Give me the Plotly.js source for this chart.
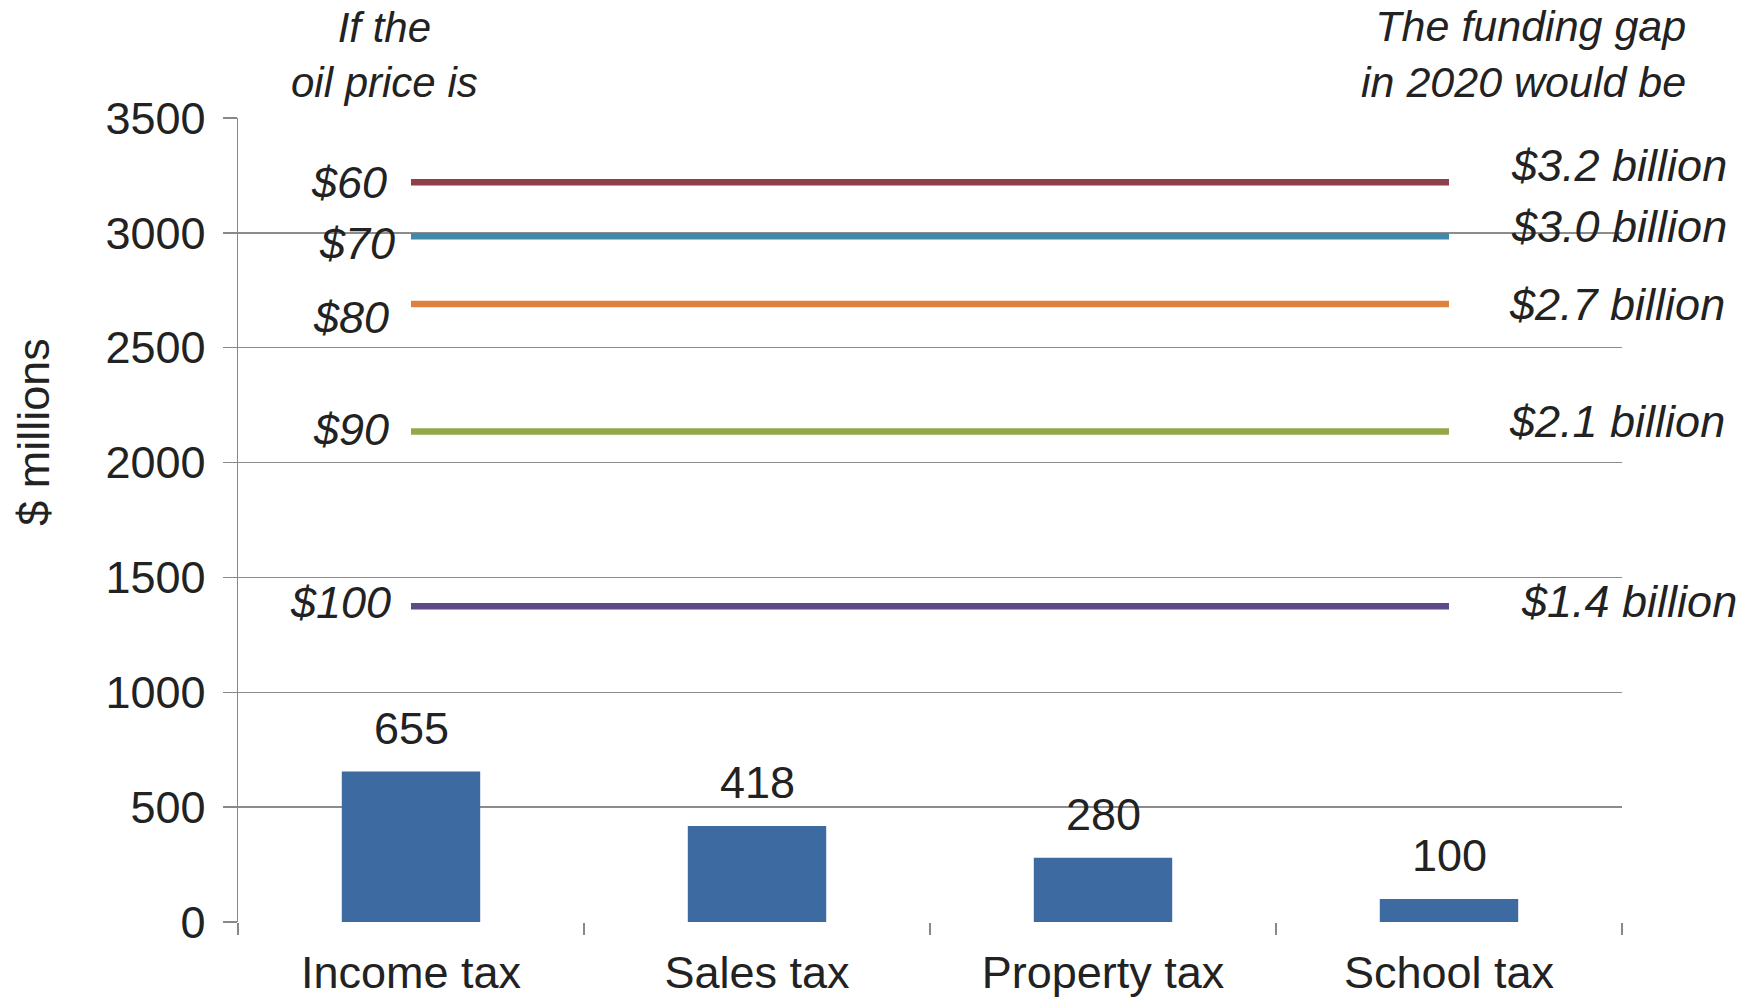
<!DOCTYPE html>
<html>
<head>
<meta charset="utf-8">
<script src="https://cdn.plot.ly/plotly-3.0.1.min.js"></script>
<style>html,body{margin:0;padding:0;background:#fff;}#chart{width:1760px;height:998px;}</style>
</head>
<body>
<div id="chart"></div>
<script>
// ---- data ----
const categories = ["Income tax", "Sales tax", "Property tax", "School tax"];
const revenue = [655, 418, 280, 100];

const oilPrices = ["$60", "$70", "$80", "$90", "$100"];
const gapValues = [3220, 2985, 2690, 2135, 1375];
const gapLabels = ["$3.2 billion", "$3.0 billion", "$2.7 billion", "$2.1 billion", "$1.4 billion"];

const yTicks = [0, 500, 1000, 1500, 2000, 2500, 3000, 3500];

// ---- styles ----
const lineColors = ["#8e3f48", "#4189a8", "#dd823e", "#93a948", "#5e4a8a"];
const leftShiftY = [0, -7, -13, 2, 4];
const leftShiftX = [-22, -14, -20, -20, -18];
const rightShiftY = [17, 10, 0, 10, 5];
const rightShiftX = [60, 60, 58, 58, 70];
const FONT = "Liberation Sans, Arial, sans-serif";
const FS = 45;

const traces = [];
traces.push({
  type: "bar",
  x: categories,
  y: revenue,
  marker: {color: "#3d6aa0"},
  width: 0.4,
  hoverinfo: "skip",
  showlegend: false
});
gapValues.forEach((v, i) => {
  traces.push({
    type: "scatter",
    mode: "lines",
    x: [categories[0], categories[categories.length - 1]],
    y: [v, v],
    line: {color: lineColors[i], width: 6.5},
    hoverinfo: "skip",
    showlegend: false
  });
});

const annotations = [];
// bar value labels
revenue.forEach((v, i) => {
  annotations.push({
    x: categories[i], y: v, xref: "x", yref: "y",
    text: String(v), showarrow: false, yanchor: "bottom", yshift: 16,
    font: {family: FONT, size: FS, color: "#222"}
  });
});
// oil price labels (left) and gap labels (right)
gapValues.forEach((v, i) => {
  annotations.push({
    x: categories[0], y: v, xref: "x", yref: "y",
    text: "<i>" + oilPrices[i] + "</i>", showarrow: false,
    xanchor: "right", yanchor: "middle", xshift: leftShiftX[i], yshift: leftShiftY[i],
    font: {family: FONT, size: FS, color: "#222"}
  });
  annotations.push({
    x: categories[categories.length - 1], y: v, xref: "x", yref: "y",
    text: "<i>" + gapLabels[i] + "</i>", showarrow: false,
    xanchor: "left", yanchor: "middle", xshift: rightShiftX[i], yshift: rightShiftY[i],
    font: {family: FONT, size: FS, color: "#222"}
  });
});
// headers
annotations.push({
  x: categories[0], xref: "x", y: 1, yref: "paper",
  text: "<i>If the<br>oil price is</i>", showarrow: false,
  xanchor: "center", yanchor: "bottom", xshift: -27, yshift: 10, align: "center",
  font: {family: FONT, size: 42, color: "#222"}
});
annotations.push({
  x: 1.048, xref: "paper", y: 1, yref: "paper",
  text: "<i>The funding gap<br>in 2020 would be</i>", showarrow: false,
  xanchor: "right", yanchor: "bottom", yshift: 10, align: "right",
  font: {family: FONT, size: 43, color: "#222"}
});
// y axis title
annotations.push({
  x: -0.148, xref: "paper", y: 0.61, yref: "paper",
  text: "$ millions", showarrow: false, textangle: -90,
  xanchor: "center", yanchor: "middle",
  font: {family: FONT, size: FS, color: "#222"}
});

const layout = {
  width: 1760, height: 998,
  margin: {l: 238, r: 138, t: 118, b: 76},
  paper_bgcolor: "#fff", plot_bgcolor: "#fff",
  font: {family: FONT, size: FS, color: "#222"},
  showlegend: false,
  xaxis: {
    type: "category",
    range: [-0.5, 3.5],
    tickson: "boundaries",
    ticks: "outside", ticklen: 12, tickcolor: "#888", tickwidth: 1.5,
    ticklabelstandoff: 20,
    showline: false,
    showgrid: false,
    tickfont: {family: FONT, size: FS, color: "#222"},
    automargin: false,
    fixedrange: true
  },
  yaxis: {
    range: [0, 3500],
    tickvals: yTicks,
    ticks: "outside", ticklen: 14, tickcolor: "#888", tickwidth: 1.5,
    ticklabelstandoff: 8,
    showgrid: true, gridcolor: "#8c8c8c", gridwidth: 1.5,
    showline: true, linecolor: "#888", linewidth: 1.5,
    zeroline: false,
    tickfont: {family: FONT, size: FS, color: "#222"},
    automargin: false,
    fixedrange: true
  },
  annotations: annotations,
  bargap: 0.6
};

Plotly.newPlot("chart", traces, layout, {displayModeBar: false, staticPlot: true});
</script>
</body>
</html>
